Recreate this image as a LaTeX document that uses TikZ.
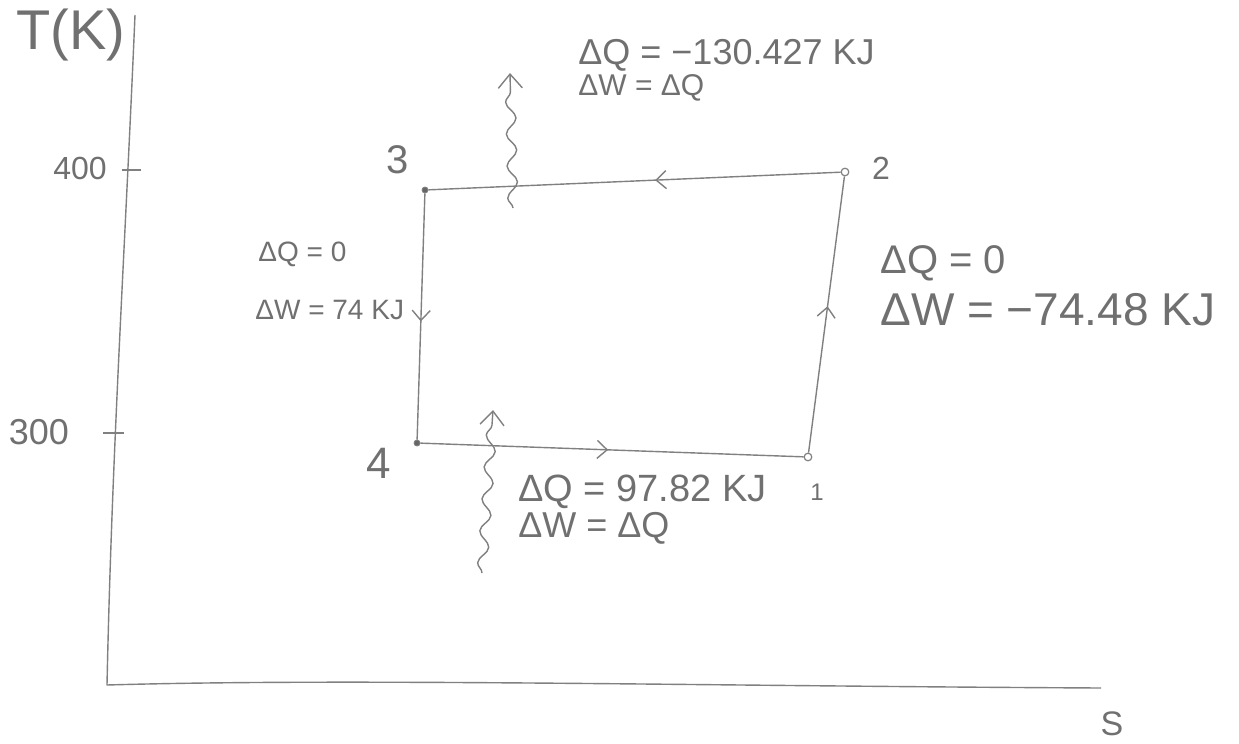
\documentclass[tikz,border=0pt]{standalone}
\usepackage{fontspec}
\setmainfont{Liberation Sans}
\usetikzlibrary{arrows.meta,decorations.pathmorphing,decorations.markings}
\definecolor{pencil}{RGB}{128,128,128}
\definecolor{ink}{RGB}{112,112,112}
\newcommand{\hsz}[1]{\fontsize{#1}{#1}\selectfont}
\begin{document}
\begin{tikzpicture}[x=0.5pt,y=-0.5pt,
  axisline/.style={draw=pencil, line width=0.7pt, line join=round},
  edge/.style={draw=pencil, line width=0.7pt},
  midarrow/.style={postaction={decorate}, decoration={markings, mark=at position #1 with {\arrow[pencil, line width=0.7pt]{Straight Barb[length=5pt,width=9pt]}}}},
  heat/.style={draw=pencil, line width=0.7pt, decorate,
     decoration={snake, segment length=16pt, amplitude=2.5pt, post length=7pt},
     -{Straight Barb[length=7pt,width=12pt]}},
  stateclosed/.style={circle, draw=pencil, fill=pencil!80!black, inner sep=0pt, minimum size=3pt},
  stateopen/.style={circle, draw=pencil, fill=white, line width=0.6pt, inner sep=0pt, minimum size=3.8pt},
  lbl/.style={text=ink, inner sep=0pt},
  eq/.style={text=ink, inner sep=0pt, anchor=west}
]
\useasboundingbox (0,0) rectangle (1239,744);
\fill[white] (0,0) rectangle (1239,744);

% axes
\coordinate (ytop) at (135,15);
\coordinate (origin) at (107,685);
\coordinate (xend) at (1101,688);
\draw[axisline] (ytop) .. controls (125,250) and (112,450) .. (origin)
  .. controls (350,678) and (700,686) .. (xend);

% ticks
\coordinate (t4a) at (122,170);
\coordinate (t4b) at (141,170);
\coordinate (t3a) at (103,433);
\coordinate (t3b) at (124,433);
\draw[axisline] (t4a) -- (t4b);
\draw[axisline] (t3a) -- (t3b);

% axis labels
\node[lbl, anchor=west] (tlabel) at (16,35) {\hsz{28}T(K)};
\node[lbl] (l400) at (80,168) {\hsz{16}400};
\node[lbl] (l300) at (39,432) {\hsz{18}300};
\node[lbl] (slabel) at (1112,724) {\hsz{17}S};

% states
\node[stateclosed] (p3) at (425,190) {};
\node[stateopen] (p2) at (845,172) {};
\node[stateopen] (p1) at (808,457) {};
\node[stateclosed] (p4) at (417,443) {};

\node[lbl] (n3) at (398,160) {\hsz{20}3};
\node[lbl] (n2) at (881,168) {\hsz{16}2};
\node[lbl] (n1) at (817,492) {\hsz{12}1};
\node[lbl] (n4) at (379,463) {\hsz{22}4};

% cycle
\draw[edge, midarrow=0.45] (p2) -- (p3);
\draw[edge, midarrow=0.52] (p3) -- (p4);
\draw[edge, midarrow=0.49] (p4) -- (p1);
\draw[edge, midarrow=0.53] (p1) -- (p2);

% heat arrows
\coordinate (qout0) at (513,208);
\coordinate (qout1) at (510,73);
\draw[heat] (qout0) -- (qout1);
\coordinate (qin0) at (482,573);
\coordinate (qin1) at (493,410);
\draw[heat] (qin0) -- (qin1);

% annotations
\node[eq] (top1) at (578,55) {\hsz{18}ΔQ = −130.427 KJ};
\node[eq] (top2) at (578,88) {\hsz{15}ΔW = ΔQ};

\node[eq] (left1) at (258,254) {\hsz{14}ΔQ = 0};
\node[eq] (left2) at (255,310) {\hsz{14}ΔW = 74 KJ};

\node[eq] (right1) at (880,263) {\hsz{20}ΔQ = 0};
\node[eq] (right2) at (880,310) {\hsz{23}ΔW = −74.48 KJ};

\node[eq] (bot1) at (518,492) {\hsz{19}ΔQ = 97.82 KJ};
\node[eq] (bot2) at (518,528) {\hsz{18}ΔW = ΔQ};
\end{tikzpicture}
\end{document}
